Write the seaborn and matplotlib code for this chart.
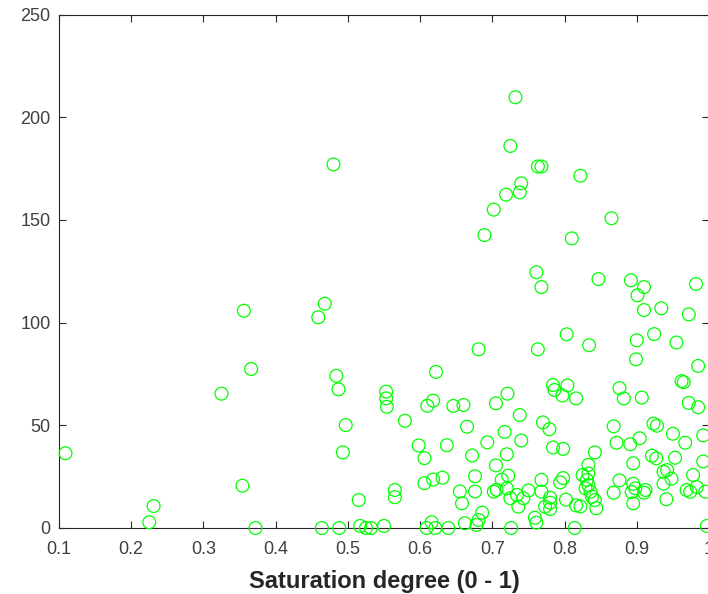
import matplotlib
matplotlib.use("Agg")
import matplotlib.pyplot as plt
import seaborn as sns
import pandas as pd

saturation = [
    0.109, 0.225, 0.231, 0.325, 0.354, 0.356, 0.366, 0.372, 0.459, 0.468, 0.464, 0.480,
    0.484, 0.487, 0.488, 0.493, 0.497, 0.515, 0.517, 0.525, 0.532, 0.550,
    0.553, 0.553, 0.554, 0.565, 0.565, 0.579,
    0.598, 0.606, 0.606, 0.610, 0.618, 0.618, 0.622, 0.631, 0.637, 0.646, 0.660,
    0.609, 0.616, 0.621, 0.639,
    0.655, 0.658, 0.665, 0.662, 0.672, 0.676, 0.676, 0.678, 0.681, 0.686, 0.681, 0.689,
    0.693, 0.702, 0.705, 0.705, 0.702, 0.706, 0.720, 0.713, 0.722, 0.717, 0.721, 0.720,
    0.719, 0.725, 0.732,
    0.725, 0.734, 0.743, 0.736, 0.726,
    0.738, 0.740, 0.738, 0.740, 0.750,
    0.759, 0.761, 0.761, 0.763, 0.768, 0.763, 0.768,
    0.768, 0.768, 0.770, 0.779,
    0.780, 0.780, 0.780, 0.773,
    0.784, 0.786, 0.784, 0.798, 0.797, 0.804, 0.798, 0.794,
    0.802, 0.816, 0.803, 0.810, 0.816, 0.814, 0.822,
    0.825, 0.833, 0.831, 0.833, 0.829, 0.836, 0.838, 0.842, 0.844, 0.822,
    0.833, 0.842, 0.834, 0.847,
    0.865, 0.868, 0.868, 0.876, 0.872, 0.876, 0.882,
    0.891, 0.893, 0.895, 0.895, 0.898, 0.895, 0.904, 0.892, 0.901, 0.900, 0.899,
    0.907, 0.910, 0.910, 0.910, 0.912, 0.921, 0.927, 0.924, 0.923, 0.928,
    0.934, 0.937, 0.942, 0.948, 0.937, 0.941, 0.950, 0.953, 0.955,
    0.962, 0.965, 0.967, 0.972, 0.972, 0.969, 0.974, 0.978, 0.983, 0.982,
    0.985, 0.985, 0.992, 0.992, 0.995, 0.997,
]

count = [
    36.4, 2.8, 10.7, 65.4, 20.6, 105.8, 77.4, 0.0, 102.6, 109.2, 0.0, 177.0,
    74.1, 67.5, 0.0, 36.8, 50.1, 13.6, 1.0, 0.0, 0.0, 1.0,
    66.4, 63.1, 59.0, 18.5, 15.0, 52.2,
    40.2, 34.0, 21.8, 59.5, 62.0, 23.6, 76.0, 24.5, 40.3, 59.4, 59.9,
    0.0, 2.8, 0.0, 0.0,
    17.8, 12.0, 49.3, 2.3, 35.3, 25.2, 17.8, 1.5, 3.9, 7.5, 87.0, 142.6,
    41.7, 155.0, 60.7, 30.5, 17.7, 18.6, 19.3, 23.5, 25.5, 46.8, 65.4, 35.9,
    162.3, 186.0, 209.7,
    14.5, 16.1, 14.5, 10.4, 0.0,
    55.0, 42.6, 163.4, 167.8, 18.3,
    5.0, 2.6, 124.5, 87.0, 117.3, 176.0, 176.0,
    23.4, 17.7, 51.4, 48.1,
    14.8, 12.3, 9.2, 10.4,
    69.6, 67.2, 39.2, 38.5, 64.5, 69.4, 24.3, 22.2,
    13.8, 11.0, 94.3, 141.0, 63.1, 0.0, 171.5,
    25.8, 26.5, 23.4, 20.9, 19.3, 17.7, 15.2, 13.6, 9.6, 10.5,
    30.7, 36.8, 89.0, 121.2,
    150.8, 49.5, 17.2, 23.2, 41.5, 68.1, 63.1,
    40.8, 17.5, 21.5, 12.0, 19.3, 31.5, 43.7, 120.6, 113.3, 91.4, 82.1,
    63.5, 117.3, 106.1, 17.2, 18.5, 35.2, 33.9, 94.4, 50.8, 49.8,
    107.0, 27.4, 28.2, 24.0, 21.6, 14.0, 45.9, 34.2, 90.3,
    71.5, 71.0, 41.5, 60.9, 104.0, 18.5, 17.6, 25.8, 19.9, 118.8,
    78.9, 58.8, 45.1, 32.4, 17.7, 1.0,
]

x_ticks = [0.1, 0.2, 0.3, 0.4, 0.5, 0.6, 0.7, 0.8, 0.9, 1.0]
x_tick_labels = ["0.1", "0.2", "0.3", "0.4", "0.5", "0.6", "0.7", "0.8", "0.9", "1"]
y_ticks = [0, 50, 100, 150, 200, 250]
x_label = "Saturation degree (0 - 1)"

df = pd.DataFrame({"saturation": saturation, "count": count})

sns.set_style("white")
plt.rcParams["font.family"] = ["Liberation Sans", "DejaVu Sans"]

fig = plt.figure(figsize=(7.08, 5.94), dpi=100)
ax = fig.add_axes([59 / 708, 66 / 594, 650 / 708, 513.5 / 594])

sns.scatterplot(
    data=df, x="saturation", y="count", ax=ax,
    marker="o", s=85, facecolor="none", edgecolor="#00ff00",
    linewidth=0.9, clip_on=False, zorder=3,
)

ax.set_xlim(0.1, 1.0)
ax.set_ylim(0, 250)
ax.set_xticks(x_ticks)
ax.set_xticklabels(x_tick_labels)
ax.set_yticks(y_ticks)

axis_color = "#262626"
for side in ["left", "bottom", "top", "right"]:
    ax.spines[side].set_visible(True)
    ax.spines[side].set_color(axis_color)
    ax.spines[side].set_linewidth(0.8)

ax.tick_params(axis="both", which="both", direction="in", length=5, width=0.8,
               colors=axis_color, labelcolor="#404040", labelsize=13,
               top=True, right=True, bottom=True, left=True)
ax.tick_params(axis="x", pad=9)
ax.tick_params(axis="y", pad=6)

ax.set_xlabel(x_label, fontsize=17, fontweight="bold", color="#262626", labelpad=9)
ax.set_ylabel("")

fig.savefig("out.png", dpi=100)
